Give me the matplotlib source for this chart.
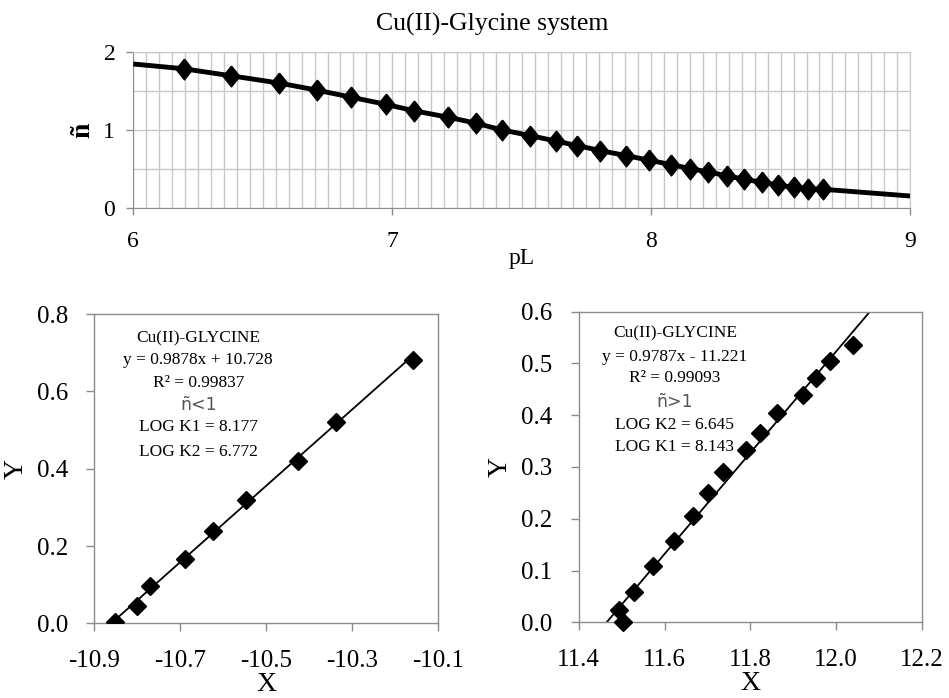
import matplotlib
matplotlib.use("Agg")
import matplotlib.pyplot as plt
import numpy as np
from matplotlib.ticker import MultipleLocator

plt.rcParams['font.family'] = ['Liberation Serif', 'DejaVu Serif']

# ---------------- data ----------------
title_top = "Cu(II)-Glycine system"
pL = [6.194, 6.376, 6.564, 6.708, 6.839, 6.977, 7.085, 7.214, 7.323, 7.422,
      7.532, 7.634, 7.714, 7.803, 7.903, 7.992, 8.076, 8.151, 8.221, 8.294,
      8.359, 8.427, 8.490, 8.551, 8.607, 8.663]
nbar = [1.789, 1.699, 1.604, 1.514, 1.424, 1.329, 1.247, 1.166, 1.088, 1.002,
        0.929, 0.856, 0.800, 0.735, 0.671, 0.611, 0.555, 0.503, 0.460, 0.409,
        0.366, 0.327, 0.292, 0.262, 0.245, 0.237]
curve_pL = [6.0] + pL + [9.0]
curve_n = [1.85] + nbar + [0.15]

X_low = [-10.852, -10.801, -10.771, -10.689, -10.623, -10.548, -10.427, -10.338, -10.160]
Y_low = [0.003, 0.045, 0.097, 0.166, 0.240, 0.319, 0.419, 0.522, 0.681]
slope_low, icpt_low = 0.9878, 10.728

X_high = [11.495, 11.504, 11.529, 11.572, 11.623, 11.666, 11.702, 11.737, 11.790,
          11.822, 11.863, 11.922, 11.953, 11.985, 12.038]
Y_high = [0.024, 0.000, 0.059, 0.109, 0.157, 0.205, 0.249, 0.291, 0.332,
          0.366, 0.404, 0.440, 0.471, 0.504, 0.536]
slope_high, icpt_high = 0.9787, -11.221

text_low = ["Cu(II)-GLYCINE", "y = 0.9878x + 10.728", "R\u00b2 = 0.99837",
            "\u00f1<1", "LOG K1 = 8.177", "LOG K2 = 6.772"]
text_high = ["Cu(II)-GLYCINE", "y = 0.9787x - 11.221", "R\u00b2 = 0.99093",
             "\u00f1>1", "LOG K2 = 6.645", "LOG K1 = 8.143"]

# ---------------- figure ----------------
fig = plt.figure(figsize=(9.49, 6.98), dpi=100)

spine_col = '#8c8c8c'
grid_col = '#c8c8c8'

# top panel
ax0 = fig.add_axes([0.1405, 0.7025, 0.8185, 0.2225])
ax0.plot(curve_pL, curve_n, color='black', lw=3.5, solid_capstyle='butt', zorder=3)
tall_diamond = [(0, 1), (0.8, 0), (0, -1), (-0.8, 0), (0, 1)]
ax0.plot(pL, nbar, linestyle='none', marker=tall_diamond, ms=15, color='black', zorder=4)
ax0.set_xlim(6, 9)
ax0.set_ylim(0, 2)
ax0.xaxis.set_major_locator(MultipleLocator(1))
ax0.xaxis.set_minor_locator(MultipleLocator(0.05))
ax0.yaxis.set_major_locator(MultipleLocator(1))
ax0.yaxis.set_minor_locator(MultipleLocator(0.5))
ax0.grid(True, which='both', color=grid_col, lw=1.0)
ax0.set_axisbelow(True)
ax0.tick_params(which='major', direction='out', length=5, width=1, color=spine_col,
                labelsize=17, pad=12)
ax0.tick_params(axis='y', which='major', pad=8)
ax0.tick_params(which='minor', length=0)
for s in ax0.spines.values():
    s.set_color(grid_col)
ax0.spines['left'].set_color(spine_col)
ax0.spines['bottom'].set_color(spine_col)
ax0.set_title(title_top, fontsize=18.5, pad=16, x=0.462)
ax0.set_xlabel("pL", fontsize=17, labelpad=-3)
ax0.set_ylabel("\u00f1", fontsize=20, fontweight='bold', rotation=90, labelpad=6)


def style_lower(ax):
    for s in ax.spines.values():
        s.set_color(spine_col)
        s.set_linewidth(1.0)
    ax.tick_params(direction='out', length=6, width=1, color=spine_col,
                   labelsize=18, pad=13)
    ax.set_xlabel("X", fontsize=20, labelpad=0)
    ax.set_ylabel("Y", fontsize=20, labelpad=6)


# lower left
ax1 = fig.add_axes([0.0994, 0.107, 0.3625, 0.443])
xl = np.array([min(X_low), max(X_low)])
ax1.plot(xl, slope_low * xl + icpt_low, color='black', lw=1.3, zorder=2)
ax1.plot(X_low, Y_low, linestyle='none', marker='D', ms=9.5, color='black', zorder=3)
ax1.set_xlim(-10.9, -10.1)
ax1.set_ylim(0, 0.8)
ax1.set_xticks([-10.9, -10.7, -10.5, -10.3, -10.1])
ax1.set_yticks([0.0, 0.2, 0.4, 0.6, 0.8])
ax1.set_xticklabels(["-10.9", "-10.7", "-10.5", "-10.3", "-10.1"])
ax1.set_yticklabels(["0.0", "0.2", "0.4", "0.6", "0.8"])
style_lower(ax1)
ys1 = [0.923, 0.851, 0.776, 0.706, 0.634, 0.554]
for t, yy in zip(text_low, ys1):
    if t.startswith("\u00f1"):
        ax1.text(0.302, yy, t, transform=ax1.transAxes, ha='center', va='center',
                 fontsize=12.5, color='#555555', family=['DejaVu Sans'])
    else:
        ax1.text(0.302, yy, t, transform=ax1.transAxes, ha='center', va='center',
                 fontsize=12.5)

# lower right
ax2 = fig.add_axes([0.6098, 0.1085, 0.3618, 0.4449])
xh = np.array([11.4, 12.2])
ax2.plot(xh, slope_high * xh + icpt_high, color='black', lw=1.3, zorder=2)
ax2.plot(X_high, Y_high, linestyle='none', marker='D', ms=9.5, color='black', zorder=3,
         clip_on=False)
ax2.set_xlim(11.4, 12.2)
ax2.set_ylim(0, 0.6)
ax2.set_xticks([11.4, 11.6, 11.8, 12.0, 12.2])
ax2.set_yticks([0.0, 0.1, 0.2, 0.3, 0.4, 0.5, 0.6])
ax2.set_xticklabels(["11.4", "11.6", "11.8", "12.0", "12.2"])
ax2.set_yticklabels(["0.0", "0.1", "0.2", "0.3", "0.4", "0.5", "0.6"])
style_lower(ax2)
ys2 = [0.930, 0.855, 0.785, 0.710, 0.635, 0.563]
for t, yy in zip(text_high, ys2):
    if t.startswith("\u00f1"):
        ax2.text(0.28, yy, t, transform=ax2.transAxes, ha='center', va='center',
                 fontsize=12.5, color='#555555', family=['DejaVu Sans'])
    else:
        ax2.text(0.28, yy, t, transform=ax2.transAxes, ha='center', va='center',
                 fontsize=12.5)

fig.savefig("out.png", dpi=100)
